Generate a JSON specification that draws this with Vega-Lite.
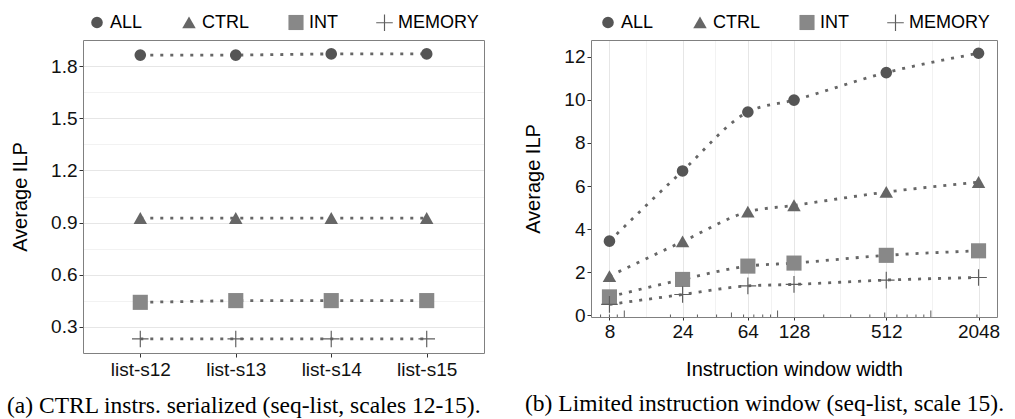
{
  "$schema": "https://vega.github.io/schema/vega-lite/v6.json",
  "padding": {"left": 6, "top": 12, "right": 5, "bottom": 0},
  "spacing": 38,
  "datasets": {
    "a": [
      {"bench": "list-s12", "series": "ALL", "ilp": 1.865},
      {"bench": "list-s13", "series": "ALL", "ilp": 1.865},
      {"bench": "list-s14", "series": "ALL", "ilp": 1.872},
      {"bench": "list-s15", "series": "ALL", "ilp": 1.872},
      {"bench": "list-s12", "series": "CTRL", "ilp": 0.925},
      {"bench": "list-s13", "series": "CTRL", "ilp": 0.925},
      {"bench": "list-s14", "series": "CTRL", "ilp": 0.925},
      {"bench": "list-s15", "series": "CTRL", "ilp": 0.925},
      {"bench": "list-s12", "series": "INT", "ilp": 0.44},
      {"bench": "list-s13", "series": "INT", "ilp": 0.45},
      {"bench": "list-s14", "series": "INT", "ilp": 0.45},
      {"bench": "list-s15", "series": "INT", "ilp": 0.45},
      {"bench": "list-s12", "series": "MEMORY", "ilp": 0.229},
      {"bench": "list-s13", "series": "MEMORY", "ilp": 0.229},
      {"bench": "list-s14", "series": "MEMORY", "ilp": 0.229},
      {"bench": "list-s15", "series": "MEMORY", "ilp": 0.229}
    ],
    "b": [
      {"w": 8, "series": "ALL", "ilp": 3.44},
      {"w": 24, "series": "ALL", "ilp": 6.7},
      {"w": 64, "series": "ALL", "ilp": 9.44},
      {"w": 128, "series": "ALL", "ilp": 9.99},
      {"w": 512, "series": "ALL", "ilp": 11.27},
      {"w": 2048, "series": "ALL", "ilp": 12.17},
      {"w": 8, "series": "CTRL", "ilp": 1.81},
      {"w": 24, "series": "CTRL", "ilp": 3.42},
      {"w": 64, "series": "CTRL", "ilp": 4.8},
      {"w": 128, "series": "CTRL", "ilp": 5.1},
      {"w": 512, "series": "CTRL", "ilp": 5.72},
      {"w": 2048, "series": "CTRL", "ilp": 6.18},
      {"w": 8, "series": "INT", "ilp": 0.85},
      {"w": 24, "series": "INT", "ilp": 1.66},
      {"w": 64, "series": "INT", "ilp": 2.28},
      {"w": 128, "series": "INT", "ilp": 2.42},
      {"w": 512, "series": "INT", "ilp": 2.78},
      {"w": 2048, "series": "INT", "ilp": 2.99},
      {"w": 8, "series": "MEMORY", "ilp": 0.5},
      {"w": 24, "series": "MEMORY", "ilp": 0.96},
      {"w": 64, "series": "MEMORY", "ilp": 1.36},
      {"w": 128, "series": "MEMORY", "ilp": 1.43},
      {"w": 512, "series": "MEMORY", "ilp": 1.63},
      {"w": 2048, "series": "MEMORY", "ilp": 1.75}
    ],
    "shortTicks": [{"w": 7}, {"w": 8}, {"w": 9}, {"w": 20}, {"w": 30}, {"w": 40}, {"w": 60}, {"w": 70}, {"w": 80}, {"w": 90}, {"w": 200}, {"w": 300}, {"w": 400}, {"w": 600}, {"w": 700}, {"w": 800}, {"w": 900}, {"w": 2000}],
    "midTicks": [{"w": 50}, {"w": 500}],
    "longTicks": [{"w": 10}, {"w": 100}, {"w": 1000}]
  },
  "config": {
    "font": "Liberation Sans",
    "view": {"stroke": "#808080", "strokeWidth": 1},
    "style": {"cell": {"strokeForeground": true}},
    "axis": {
      "domain": false,
      "labelFontSize": 19,
      "labelColor": "#111111",
      "titleFontSize": 20,
      "titleFontWeight": "normal",
      "titleColor": "#000000",
      "tickColor": "#333333",
      "tickSize": 4,
      "labelPadding": 2,
      "gridColor": "#e6e6e6"
    },
    "legend": {
      "labelFontSize": 18,
      "labelColor": "#000000",
      "orient": "top",
      "direction": "horizontal",
      "columnPadding": 37,
      "labelOffset": 4,
      "offset": 8,
      "layout": {"top": {"anchor": "middle"}}
    }
  },
  "resolve": {
    "scale": {"color": "independent", "shape": "independent", "size": "independent"},
    "legend": {"color": "independent", "shape": "independent", "size": "independent"}
  },
  "hconcat": [
    {
      "width": 401,
      "height": 313,
      "title": {
        "text": "(a) CTRL instrs. serialized (seq-list, scales 12-15).",
        "orient": "bottom",
        "anchor": "start",
        "frame": "group",
        "dx": -76,
        "offset": 15,
        "font": "Liberation Serif",
        "fontSize": 23.5,
        "fontWeight": "normal",
        "color": "#000000"
      },
      "data": {"name": "a"},
      "encoding": {
        "x": {
          "field": "bench",
          "type": "ordinal",
          "scale": {"type": "point", "padding": 0.6},
          "axis": {"title": null, "labelAngle": 0, "grid": false, "tickSize": 4, "labelPadding": 3}
        },
        "y": {
          "field": "ilp",
          "type": "quantitative",
          "scale": {"domain": [0.148, 1.952], "nice": false, "zero": false},
          "axis": {
            "title": "Average ILP",
            "titlePadding": 20,
            "values": [0.3, 0.45, 0.6, 0.75, 0.9, 1.05, 1.2, 1.35, 1.5, 1.65, 1.8],
            "labelExpr": "round(datum.value / 0.15) % 2 == 0 ? format(datum.value, '.1f') : ''",
            "tickOpacity": {"condition": {"test": "round(datum.value / 0.15) % 2 == 0", "value": 1}, "value": 0},
            "gridColor": {"condition": {"test": "round(datum.value / 0.15) % 2 == 0", "value": "#e6e6e6"}, "value": "#f2f2f2"}
          }
        }
      },
      "layer": [
        {
          "mark": {"type": "line", "strokeDash": [3, 7], "strokeWidth": 2.8, "color": "#666666"},
          "encoding": {"detail": {"field": "series"}}
        },
        {
          "mark": {"type": "point", "filled": true, "opacity": 1},
          "encoding": {
            "color": {
              "field": "series",
              "type": "nominal",
              "title": null,
              "scale": {"domain": ["ALL", "CTRL", "INT", "MEMORY"], "range": ["#555555", "#666666", "#888888", "#5e5e5e"]}
            },
            "shape": {
              "field": "series",
              "type": "nominal",
              "title": null,
              "scale": {"domain": ["ALL", "CTRL", "INT", "MEMORY"], "range": ["circle", "M0,-0.9L1,0.85L-1,0.85Z", "square", "M-1,-0.07H-0.07V-1H0.07V-0.07H1V0.07H0.07V1H-0.07V0.07H-1Z"]}
            },
            "size": {
              "field": "series",
              "type": "nominal",
              "title": null,
              "scale": {"domain": ["ALL", "CTRL", "INT", "MEMORY"], "range": [135, 275, 170, 260]}
            }
          }
        }
      ]
    },
    {
      "width": 406,
      "height": 277,
      "title": {
        "text": "(b) Limited instruction window (seq-list, scale 15).",
        "orient": "bottom",
        "anchor": "start",
        "frame": "group",
        "dx": -66,
        "offset": 13,
        "font": "Liberation Serif",
        "fontSize": 23.5,
        "fontWeight": "normal",
        "color": "#000000"
      },
      "encoding": {
        "x": {
          "field": "w",
          "type": "quantitative",
          "scale": {"type": "log", "domain": [6.063, 2702.4], "nice": false},
          "axis": {
            "title": "Instruction window width",
            "titlePadding": 18,
            "labelPadding": 2,
            "tickSize": 3,
            "values": [8, 13.856, 24, 39.192, 64, 90.51, 128, 256, 512, 1024, 2048],
            "labelExpr": "indexof([8, 24, 64, 128, 512, 2048], datum.value) >= 0 ? datum.value : ''",
            "labelFlush": false,
            "tickOpacity": {"condition": {"test": "indexof([8, 24, 64, 128, 512, 2048], datum.value) >= 0", "value": 1}, "value": 0},
            "gridColor": {"condition": {"test": "indexof([8, 24, 64, 128, 512, 2048], datum.value) >= 0", "value": "#e6e6e6"}, "value": "#f2f2f2"}
          }
        }
      },
      "layer": [
        {
          "data": {"name": "shortTicks"},
          "mark": {"type": "rule", "color": "#333333", "strokeWidth": 0.8},
          "encoding": {"y": {"datum": -0.085, "type": "quantitative"}, "y2": {"datum": 0.031}}
        },
        {
          "data": {"name": "midTicks"},
          "mark": {"type": "rule", "color": "#333333", "strokeWidth": 0.8},
          "encoding": {"y": {"datum": -0.085, "type": "quantitative"}, "y2": {"datum": 0.124}}
        },
        {
          "data": {"name": "longTicks"},
          "mark": {"type": "rule", "color": "#333333", "strokeWidth": 0.8},
          "encoding": {"y": {"datum": -0.085, "type": "quantitative"}, "y2": {"datum": 0.217}}
        },
        {
          "data": {"name": "b"},
          "mark": {"type": "line", "strokeDash": [3, 7], "strokeWidth": 2.8, "color": "#666666", "interpolate": "monotone"},
          "encoding": {
            "y": {
              "field": "ilp",
              "type": "quantitative",
              "scale": {"domain": [-0.085, 12.785], "nice": false, "zero": false},
              "axis": {
                "title": "Average ILP",
                "titlePadding": 20,
                "values": [0, 1, 2, 3, 4, 5, 6, 7, 8, 9, 10, 11, 12],
                "labelExpr": "datum.value % 2 == 0 ? datum.value : ''",
                "tickOpacity": {"condition": {"test": "datum.value % 2 == 0", "value": 1}, "value": 0},
                "gridColor": {"condition": {"test": "datum.value % 2 == 0", "value": "#e6e6e6"}, "value": "#f2f2f2"}
              }
            },
            "detail": {"field": "series"}
          }
        },
        {
          "data": {"name": "b"},
          "mark": {"type": "point", "filled": true, "opacity": 1},
          "encoding": {
            "y": {"field": "ilp", "type": "quantitative"},
            "color": {
              "field": "series",
              "type": "nominal",
              "title": null,
              "scale": {"domain": ["ALL", "CTRL", "INT", "MEMORY"], "range": ["#555555", "#666666", "#888888", "#5e5e5e"]}
            },
            "shape": {
              "field": "series",
              "type": "nominal",
              "title": null,
              "scale": {"domain": ["ALL", "CTRL", "INT", "MEMORY"], "range": ["circle", "M0,-0.9L1,0.85L-1,0.85Z", "square", "M-1,-0.07H-0.07V-1H0.07V-0.07H1V0.07H0.07V1H-0.07V0.07H-1Z"]}
            },
            "size": {
              "field": "series",
              "type": "nominal",
              "title": null,
              "scale": {"domain": ["ALL", "CTRL", "INT", "MEMORY"], "range": [135, 275, 170, 260]}
            }
          }
        }
      ]
    }
  ]
}
